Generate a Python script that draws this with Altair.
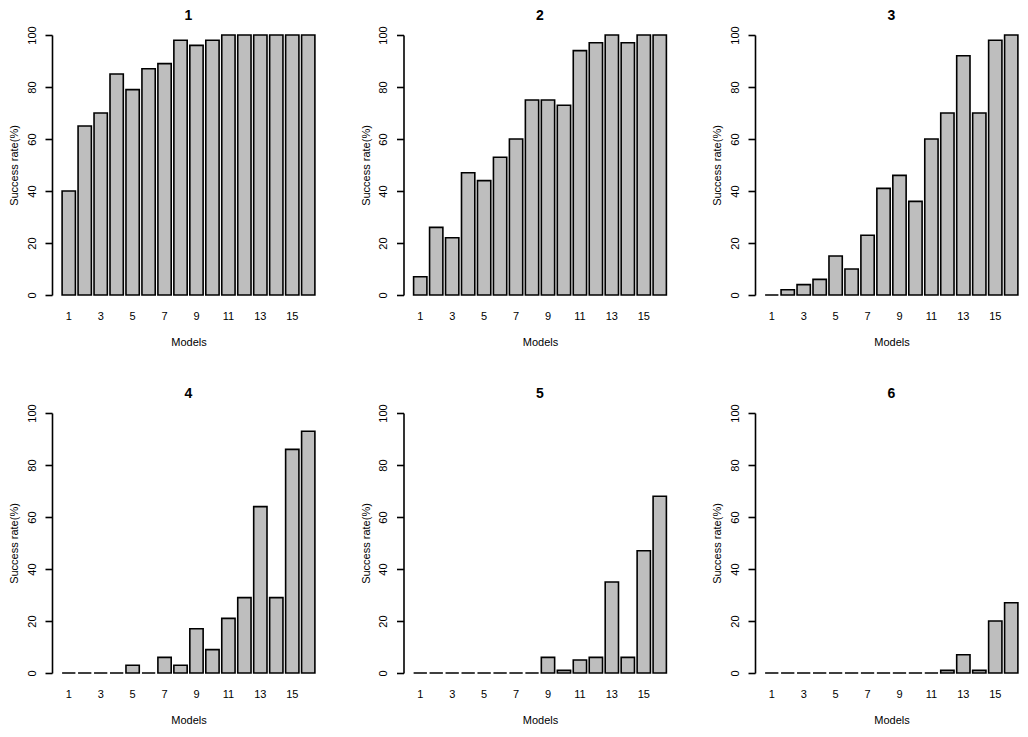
import altair as alt
import pandas as pd

models = list(range(1, 17))
panel_titles = ["1", "2", "3", "4", "5", "6"]

rate_1 = [40, 65, 70, 85, 79, 87, 89, 98, 96, 98, 100, 100, 100, 100, 100, 100]
rate_2 = [7, 26, 22, 47, 44, 53, 60, 75, 75, 73, 94, 97, 100, 97, 100, 100]
rate_3 = [0, 2, 4, 6, 15, 10, 23, 41, 46, 36, 60, 70, 92, 70, 98, 100]
rate_4 = [0, 0, 0, 0, 3, 0, 6, 3, 17, 9, 21, 29, 64, 29, 86, 93]
rate_5 = [0, 0, 0, 0, 0, 0, 0, 0, 6, 1, 5, 6, 35, 6, 47, 68]
rate_6 = [0, 0, 0, 0, 0, 0, 0, 0, 0, 0, 0, 1, 7, 1, 20, 27]

x_tick_values = [1, 3, 5, 7, 9, 11, 13, 15]
y_tick_values = [0, 20, 40, 60, 80, 100]

FONT = "Liberation Sans"


def panel(vals, title):
    df = pd.DataFrame({"Model": models, "Rate": vals})
    return (
        alt.Chart(df)
        .mark_bar(fill="#BEBEBE", stroke="black", strokeWidth=1.6)
        .encode(
            x=alt.X(
                "Model:O",
                title="Models",
                sort=models,
                scale=alt.Scale(paddingInner=0.1667, paddingOuter=0.633),
                axis=alt.Axis(
                    values=x_tick_values,
                    labelAngle=0,
                    domain=False,
                    ticks=False,
                    labelPadding=15,
                    titlePadding=15,
                ),
            ),
            y=alt.Y(
                "Rate:Q",
                title="Success rate(%)",
                scale=alt.Scale(domain=[0, 100], nice=False, zero=True),
                axis=alt.Axis(
                    values=y_tick_values,
                    labelAngle=270,
                    labelAlign="center",
                    labelBaseline="bottom",
                    tickSize=7,
                    labelPadding=8,
                    titlePadding=6.5,
                    grid=False,
                ),
            ),
        )
        .properties(
            width=273,
            height=260,
            title=alt.TitleParams(
                title, fontSize=14, fontWeight="bold", font=FONT, color="black", offset=3
            ),
        )
    )


series = [rate_1, rate_2, rate_3, rate_4, rate_5, rate_6]
charts = [panel(v, t) for v, t in zip(series, panel_titles)]

chart = (
    alt.concat(*charts, columns=3, spacing={"row": 118, "column": 78.5}, bounds="flush")
    .properties(padding={"top": 0, "left": 0, "right": -9, "bottom": 0}, background="white")
    .configure_view(stroke=None)
    .configure_axis(
        labelFont=FONT,
        titleFont=FONT,
        labelFontSize=11,
        titleFontSize=11,
        titleFontWeight="normal",
        labelColor="black",
        titleColor="black",
        domainColor="black",
        tickColor="black",
        domainWidth=1.6,
        tickWidth=1.6,
        grid=False,
    )
)

chart.save("out.html", embed_options={"renderer": "svg", "actions": False})
